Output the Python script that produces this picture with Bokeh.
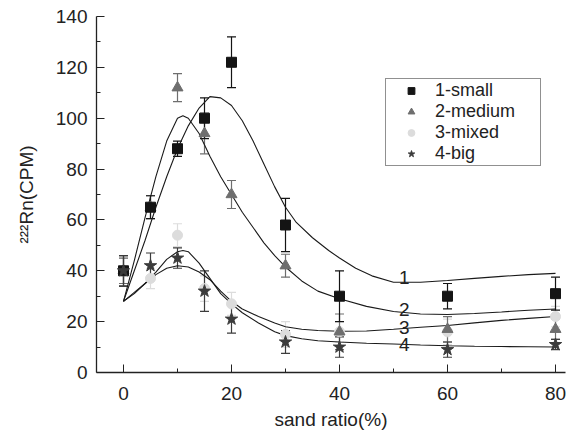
from bokeh.plotting import figure
from bokeh.models import (ColumnDataSource, Whisker, TeeHead, FixedTicker, Range1d,
                          Legend, LegendItem, Label)
from bokeh.embed import file_html
from bokeh.resources import INLINE

FONT = "Liberation Sans"

# ---- measured data ----
sand = [0, 5, 10, 15, 20, 30, 40, 60, 80]
small_y = [40, 65, 88, 100, 122, 58, 30, 30, 31]
small_err = [6, 4.5, 3, 8, 10, 10.5, 10, 5, 6.5]
medium_y = [40, 65, 112, 94, 70, 42, 16, 17, 17]
medium_err = [5, 4.5, 5.5, 8, 5.5, 4.5, 7, 5, 4]
mixed_y = [40, 37, 54, 33, 27, 15, 16, 16, 22]
mixed_err = [5, 4, 4.5, 5, 4.5, 5, 4, 5, 4]
big_y = [40, 42, 45, 32, 21, 12, 10, 9, 11]
big_err = [6, 5, 4, 8, 5.5, 4.5, 4, 3, 2]

# ---- fitted curves ----
c1_x = [0, 2, 4, 6, 8, 10, 12, 14, 16, 18, 20, 22, 24, 26, 28, 30, 32, 35, 38, 40, 43, 46, 50, 55, 60, 65, 70, 75, 80]
c1_y = [28, 40, 52, 65, 77, 88, 97, 104, 108.5, 108, 105, 99, 91, 82, 73, 65, 59, 53, 48, 45, 41, 38, 35.5, 35.5, 36.2, 37, 37.8, 38.5, 39]
c2_x = [0, 2, 4, 6, 8, 10, 11, 12, 14, 16, 18, 20, 22, 24, 26, 28, 30, 33, 36, 40, 45, 50, 55, 60, 65, 70, 75, 80]
c2_y = [28, 44, 61, 77, 91, 100, 101, 100, 94, 85, 77, 70, 63, 57, 51, 46, 41.5, 36, 32, 29, 26, 24, 23, 22.8, 23.2, 23.8, 24.5, 25]
c3_x = [0, 2, 4, 6, 8, 10, 12, 14, 16, 18, 20, 22, 25, 28, 30, 33, 36, 40, 45, 50, 55, 60, 65, 70, 75, 80]
c3_y = [28, 31, 35, 38.5, 41, 42, 41.5, 39.5, 36.5, 32, 28, 25, 22, 19.5, 18, 17, 16.5, 16.2, 16.3, 17, 17.8, 18.5, 19.5, 20.5, 21.3, 22]
c4_x = [0, 2, 4, 6, 8, 10, 11, 12, 14, 16, 18, 20, 22, 25, 28, 30, 33, 36, 40, 45, 50, 55, 60, 65, 70, 75, 80]
c4_y = [28, 31.5, 35, 39.5, 44.5, 47.5, 48, 47.5, 43, 37, 31, 27, 23.5, 19.5, 16, 14.5, 13.3, 12.5, 12, 11.5, 11.2, 10.8, 10.5, 10.3, 10.2, 10.1, 10]

curve_labels = ["1", "2", "3", "4"]
label_x = [52, 52, 52, 52]
label_y = [37.4, 24.8, 17.7, 11.0]

x_ticks = [0, 20, 40, 60, 80]
x_minor = [10, 30, 50, 70]
y_ticks = [0, 20, 40, 60, 80, 100, 120, 140]
y_minor = [10, 30, 50, 70, 90, 110, 130]

p = figure(width=572, height=432, output_backend="svg", toolbar_location=None,
           x_range=Range1d(-5, 81.85), y_range=Range1d(0, 140))
p.min_border_left = 96
p.min_border_top = 16
p.min_border_right = 7
p.min_border_bottom = 10
p.outline_line_color = None
p.xgrid.visible = False
p.ygrid.visible = False
p.background_fill_color = "white"

for ax in (p.xaxis[0], p.yaxis[0]):
    ax.major_tick_in = 8
    ax.major_tick_out = 0
    ax.minor_tick_in = 4
    ax.minor_tick_out = 0
    ax.axis_line_color = "#222222"
    ax.axis_line_width = 1.3
    ax.major_tick_line_color = "#222222"
    ax.minor_tick_line_color = "#222222"
    ax.major_label_text_font = FONT
    ax.major_label_text_font_size = "19px"
    ax.major_label_text_color = "#222222"
    ax.axis_label_text_font = FONT
    ax.axis_label_text_font_size = "19px"
    ax.axis_label_text_font_style = "normal"
    ax.axis_label_text_color = "#222222"

p.xaxis.ticker = FixedTicker(ticks=x_ticks, minor_ticks=x_minor)
p.yaxis.ticker = FixedTicker(ticks=y_ticks, minor_ticks=y_minor)
p.xaxis.axis_label = "sand ratio(%)"
p.yaxis.axis_label = "²²²Rn(CPM)"
p.xaxis.major_label_standoff = 14
p.xaxis.axis_label_standoff = 6
p.yaxis.major_label_standoff = 9
p.yaxis.axis_label_standoff = 16

# curves
for cx, cy in ((c1_x, c1_y), (c2_x, c2_y), (c3_x, c3_y), (c4_x, c4_y)):
    p.line(cx, cy, line_color="#1a1a1a", line_width=1.1)

for t, lx, ly in zip(curve_labels, label_x, label_y):
    p.add_layout(Label(x=lx, y=ly, text=t, text_font=FONT, text_font_size="19px",
                       text_color="#222222", text_align="center", text_baseline="alphabetic"))

series = [
    ("3-mixed", mixed_y, mixed_err, "circle", "#dcdcdc", 10),
    ("2-medium", medium_y, medium_err, "triangle", "#6e6e6e", 11),
    ("1-small", small_y, small_err, "square", "#141414", 10),
    ("4-big", big_y, big_err, "star", "#3c3c3c", 13),
]

renderers = {}
for name, ys, es, marker, color, size in series:
    src = ColumnDataSource(dict(x=sand, y=ys,
                                upper=[a + b for a, b in zip(ys, es)],
                                lower=[a - b for a, b in zip(ys, es)]))
    w = Whisker(source=src, base="x", upper="upper", lower="lower",
                line_color=color, line_width=1.2,
                upper_head=TeeHead(size=9, line_color=color, line_width=1.2),
                lower_head=TeeHead(size=9, line_color=color, line_width=1.2))
    w.level = "underlay"
    p.add_layout(w)
    r = p.scatter("x", "y", source=src, marker=marker, size=size,
                  fill_color=color, line_color=color)
    renderers[name] = r

legend = Legend(items=[LegendItem(label=n, renderers=[renderers[n]])
                       for n in ["1-small", "2-medium", "3-mixed", "4-big"]],
                location=(289, 206))
legend.label_text_font = FONT
legend.label_text_font_size = "18px"
legend.label_text_color = "#222222"
legend.label_height = 17
legend.glyph_height = 17
legend.glyph_width = 48
legend.label_standoff = 0
legend.label_width = 104
legend.spacing = 0
legend.padding = 1
legend.margin = 0
legend.border_line_color = "#222222"
legend.border_line_width = 1.2
legend.background_fill_alpha = 1
p.add_layout(legend)

open("out.html", "w").write(file_html(p, INLINE))
